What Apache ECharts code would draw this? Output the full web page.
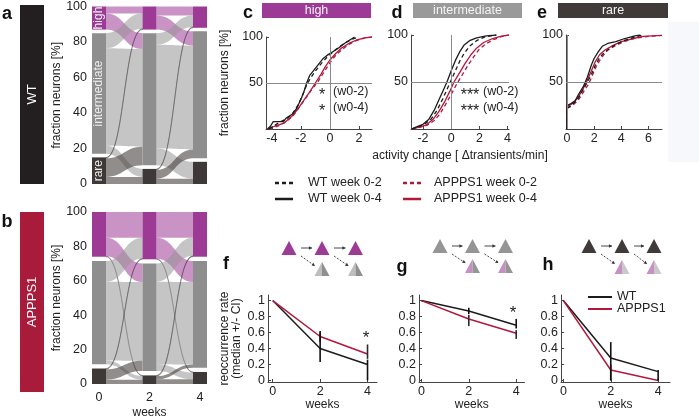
<!DOCTYPE html>
<html>
<head>
<meta charset="utf-8">
<script src="https://cdn.jsdelivr.net/npm/echarts@6/dist/echarts.min.js"></script>
<style>
  html, body { margin: 0; padding: 0; background: #fff; }
  #chart { width: 699px; height: 420px; }
</style>
</head>
<body>
<div id="chart"></div>
<script>
// ---------- data ----------
const weeks = [0, 2, 4];
const groups = ['high', 'intermediate', 'rare'];

// sankey transitions, % of neurons; rows = from (high, intermediate, rare), cols = to
const wtFlow02 = [[4, 9, 0], [8.5, 55, 4.5], [0.5, 10.5, 4]];
const wtFlow24 = [[5, 8, 0], [6.5, 58.5, 9.5], [0.5, 5, 3]];
const apFlow02 = [[15, 10.7, 0.3], [12, 45.8, 2.2], [0.5, 6, 2.5]];
const apFlow24 = [[15, 12.2, 0.3], [10.5, 48, 4], [0.5, 1.8, 2.7]];

// cumulative distributions of activity change [x, %]
const cdfHighWt02 = [[-4.2,0],[-3.8,4],[-3.4,8],[-3.0,11],[-2.6,16],[-2.2,26],[-1.9,36],[-1.6,48],[-1.3,56],[-1.0,63],[-0.6,71],[-0.2,78],[0.3,85],[0.8,91],[1.2,95],[1.6,98],[2.0,100]];
const cdfHighWt04 = [[-4.3,0],[-4.1,3],[-3.9,8],[-3.2,8],[-3.0,12],[-2.6,16],[-2.3,22],[-2.0,32],[-1.8,40],[-1.6,50],[-1.4,58],[-1.1,64],[-0.8,70],[-0.5,76],[-0.2,80],[0.2,84],[0.6,88],[1.0,93],[1.4,97],[1.7,100]];
const cdfHighAp02 = [[-4.2,0],[-3.6,3],[-3.0,8],[-2.5,15],[-2.0,26],[-1.6,35],[-1.2,44],[-0.8,52],[-0.4,62],[0,72],[0.4,80],[0.8,86],[1.3,92],[1.8,96],[2.4,99],[2.9,100]];
const cdfHighAp04 = [[-4.3,0],[-3.8,3],[-3.2,6],[-2.6,14],[-2.2,22],[-1.8,31],[-1.4,40],[-1.0,50],[-0.6,60],[-0.3,68],[0,75],[0.4,82],[0.8,88],[1.3,93],[1.8,96.5],[2.4,99],[2.9,100]];

const cdfInterWt02 = [[-2.8,0],[-2.4,2],[-1.9,5],[-1.4,11],[-1.0,20],[-0.6,32],[-0.3,42],[0,52],[0.3,62],[0.6,72],[0.9,80],[1.3,88],[1.8,94],[2.4,98],[3.2,100]];
const cdfInterWt04 = [[-2.8,0],[-2.5,2],[-2.0,5],[-1.6,10],[-1.2,20],[-0.9,30],[-0.6,40],[-0.3,50],[0,62],[0.3,73],[0.6,82],[0.9,89],[1.3,94],[1.8,97],[2.5,99],[3.2,100]];
const cdfInterAp02 = [[-2.8,0],[-2.3,1.5],[-1.7,4],[-1.2,9],[-0.8,16],[-0.4,26],[0,37],[0.4,48],[0.8,58],[1.2,68],[1.6,77],[2.0,85],[2.5,91],[3.0,95],[3.6,98.5],[4.1,100]];
const cdfInterAp04 = [[-2.8,0],[-2.4,1.5],[-1.8,4],[-1.3,10],[-0.9,18],[-0.5,28],[-0.1,40],[0.2,50],[0.6,60],[1.0,70],[1.4,79],[1.8,86],[2.3,92],[2.9,96],[3.5,98.5],[4.1,100]];

const cdfRareWt02 = [[0,0],[0,22],[0.4,26],[0.8,32],[1.2,42],[1.5,50],[1.8,58],[2.1,68],[2.4,76],[2.8,82],[3.2,86],[3.6,90],[4.2,94],[4.8,97],[5.6,100]];
const cdfRareWt04 = [[0,0],[0,25],[0.3,27],[0.6,30],[0.9,38],[1.2,45],[1.5,55],[1.8,68],[2.0,75],[2.3,82],[2.6,88],[3.0,91],[3.6,93],[4.2,96],[5.0,99],[5.4,100]];
const cdfRareAp02 = [[0,0],[0,22],[0.4,25],[0.8,30],[1.2,39],[1.6,48],[1.9,58],[2.2,68],[2.6,77],[3.0,84],[3.6,89],[4.2,93],[5.0,96.5],[6.0,98.5],[7,99.5]];
const cdfRareAp04 = [[0,0],[0,24],[0.4,27],[0.8,33],[1.2,43],[1.5,52],[1.8,62],[2.1,72],[2.4,79],[2.8,84],[3.4,89],[4.0,93],[4.8,96],[5.6,98.5],[7,99.5]];

// reoccurrence rate (median) and CI at weeks 2 and 4
const recurWeeks = [0, 2, 4];
const ciWeeks = [2, 4];
const highWt = [1, 0.40, 0.20],  highAp = [1, 0.55, 0.33];
const interWt = [1, 0.87, 0.69], interAp = [1, 0.77, 0.59];
const rareWt = [1, 0.28, 0.11],  rareAp = [1, 0.13, 0];
const highWtLo = [0.23, 0],    highWtHi = [0.62, 0.26];
const highApLo = [0.48, 0.27], highApHi = [0.60, 0.45];
const interWtLo = [0.83, 0.65], interWtHi = [0.91, 0.77];
const interApLo = [0.68, 0.52], interApHi = [0.82, 0.63];
const rareWtLo = [0, 0], rareWtHi = [0.48, 0.13];
const rareApLo = [0, 0], rareApHi = [0.20, 0.02];

// ---------- styles ----------
const FONT = 'Liberation Sans, Arial, sans-serif';
const BLACK = '#1c1c1c', RED = '#b2183c', AXIS = '#444';
const nodeColors = ['#9c3a96', '#8e8e8e', '#3e3936'];
const flowColors = ['rgba(158,58,151,0.55)', 'rgba(150,150,150,0.55)', 'rgba(70,65,62,0.6)'];

// sankey layout in data units (weeks, %)
function sankeyLayout(flowA, flowB, gap) {
  const sum = a => a.reduce((s, v) => s + v, 0);
  const colSums = m => [0, 1, 2].map(j => sum(m.map(r => r[j])));
  const cols = [flowA.map(sum), colSums(flowA), colSums(flowB)];
  const ext = cols.map(vals => {
    const e = []; let y = 0;
    for (let g = 2; g >= 0; g--) { e[g] = [y + vals[g], y]; y += vals[g] + gap; }
    return e;
  });
  const nodes = [], flows = [];
  ext.forEach((e, c) => e.forEach((v, g) => nodes.push([weeks[c], v[0], v[1], g, 0])));
  [flowA, flowB].forEach((m, t) => {
    const outTop = ext[t].map(e => e[0]);
    const inTop = ext[t + 1].map(e => e[0]);
    for (let i = 0; i < 3; i++) for (let j = 0; j < 3; j++) {
      const v = m[i][j]; if (!v) continue;
      flows.push([weeks[t], outTop[i], outTop[i] - v, weeks[t + 1], inTop[j], inTop[j] - v, i, v]);
      outTop[i] -= v; inTop[j] -= v;
    }
  });
  return { nodes, flows };
}
const wtSankey = sankeyLayout(wtFlow02, wtFlow24, 2);
const apSankey = sankeyLayout(apFlow02, apFlow24, 2.5);
wtSankey.nodes.forEach(n => { if (n[0] === 0) n[4] = 1; });

const HALF = 7;
function renderFlow(params, api) {
  const a = api.coord([api.value(0), api.value(1)]), a2 = api.coord([api.value(0), api.value(2)]);
  const b = api.coord([api.value(3), api.value(4)]), b2 = api.coord([api.value(3), api.value(5)]);
  const g = api.value(6), small = api.value(7) < 1;
  const sx = a[0] + HALF, ex = b[0] - HALF, mx = (sx + ex) / 2;
  const d = `M${sx},${a[1]} C${mx},${a[1]} ${mx},${b[1]} ${ex},${b[1]} L${ex},${b2[1]} C${mx},${b2[1]} ${mx},${a2[1]} ${sx},${a2[1]} Z`;
  return { type: 'path', shape: { pathData: d },
    style: { fill: flowColors[g], stroke: small ? 'rgba(60,60,60,0.6)' : null, lineWidth: 0.6 } };
}
function renderNode(params, api) {
  const p = api.coord([api.value(0), api.value(1)]), q = api.coord([api.value(0), api.value(2)]);
  const g = api.value(3);
  const children = [{ type: 'rect', shape: { x: p[0] - HALF, y: p[1], width: HALF * 2, height: q[1] - p[1] },
    style: { fill: nodeColors[g] } }];
  if (api.value(4)) {
    children.push({ type: 'text', x: p[0], y: (p[1] + q[1]) / 2, rotation: Math.PI / 2,
      style: { text: groups[g], fill: '#eeeeee', font: '12px ' + FONT, align: 'center', verticalAlign: 'middle',
        textAlign: 'center', textVerticalAlign: 'middle' } });
  }
  return { type: 'group', children };
}
function renderBar(color) {
  return function (params, api) {
    const p = api.coord([api.value(0), api.value(1)]), q = api.coord([api.value(0), api.value(2)]);
    return { type: 'line', shape: { x1: p[0], y1: p[1], x2: q[0], y2: q[1] }, style: { stroke: color, lineWidth: 1.6 } };
  };
}

// ---------- axes ----------
const grids = [
  { left: 92, top: 5, width: 115, height: 179 },
  { left: 92, top: 212, width: 115, height: 180 },
  { left: 266, top: 37, width: 106, height: 92 },
  { left: 411, top: 35, width: 98, height: 94 },
  { left: 566, top: 35, width: 96, height: 94 },
  { left: 268, top: 295, width: 109, height: 87 },
  { left: 419, top: 295, width: 105.5, height: 87 },
  { left: 561, top: 295, width: 109, height: 87 }
];
const lineAx = { onZero: false, lineStyle: { color: AXIS, width: 1 } };
function valAxis(gi, min, max, ticks, extra) {
  return Object.assign({
    gridIndex: gi, type: 'value', min, max,
    axisLine: lineAx,
    axisTick: { inside: true, length: 3, customValues: ticks, lineStyle: { color: AXIS } },
    axisLabel: { customValues: ticks, color: '#222', fontSize: 12.5, margin: 3 },
    splitLine: { show: false }
  }, extra || {});
}
const nameStyle = { color: '#222', fontSize: 12, fontFamily: FONT };

const xAxis = [
  { gridIndex: 0, type: 'value', min: -0.277, max: 4.277, show: false },
  { gridIndex: 1, type: 'value', min: -0.277, max: 4.277, axisLine: { show: false }, axisTick: { show: false },
    splitLine: { show: false }, axisLabel: { customValues: weeks, color: '#222', fontSize: 12.5, margin: 7 },
    name: 'weeks', nameLocation: 'middle', nameGap: 23, nameTextStyle: nameStyle },
  valAxis(2, -4.4, 2.9, [-4, -2, 0, 2]),
  valAxis(3, -2.85, 4.1, [-2, 0, 2, 4], { name: 'activity change [ \u0394transients/min]', nameLocation: 'middle',
    nameGap: 21, nameTextStyle: nameStyle }),
  valAxis(4, -0.07, 7, [0, 2, 4, 6]),
  valAxis(5, -0.2, 4.4, weeks, { name: 'weeks', nameLocation: 'middle', nameGap: 13, nameTextStyle: nameStyle }),
  valAxis(6, -0.1, 4.35, weeks, { name: 'weeks', nameLocation: 'middle', nameGap: 13, nameTextStyle: nameStyle }),
  valAxis(7, -0.1, 4.5, weeks, { name: 'weeks', nameLocation: 'middle', nameGap: 13, nameTextStyle: nameStyle })
];
const recTicks = [0, 0.2, 0.4, 0.6, 0.8, 1];
const sankeyY = gi => ({ gridIndex: gi, type: 'value', min: 0, max: 100, interval: 20,
  axisLine: { show: false }, axisTick: { show: false }, splitLine: { show: false },
  axisLabel: { color: '#222', fontSize: 12.5, margin: 5 },
  name: 'fraction neurons [%]', nameLocation: 'middle', nameRotate: 90, nameGap: 24, nameTextStyle: nameStyle });
const yAxis = [
  sankeyY(0), sankeyY(1),
  valAxis(2, 0, 100, [50, 100], { name: 'fraction neurons [%]', nameLocation: 'middle', nameRotate: 90,
    nameGap: 35, nameTextStyle: nameStyle }),
  valAxis(3, 0, 100, [50, 100]),
  valAxis(4, 0, 100, [50, 100]),
  valAxis(5, -0.02, 1.07, recTicks, { name: 'reoccurrence rate\n(median +/- CI)', nameLocation: 'middle',
    nameRotate: 90, nameGap: 25, nameTextStyle: Object.assign({ lineHeight: 12 }, nameStyle) }),
  valAxis(6, -0.02, 1.07, recTicks),
  valAxis(7, -0.02, 1.07, recTicks)
];

// ---------- series ----------
const series = [];
[[0, wtSankey], [1, apSankey]].forEach(([gi, s]) => {
  series.push({ type: 'custom', xAxisIndex: gi, yAxisIndex: gi, renderItem: renderFlow, data: s.flows, silent: true, z: 1 });
  series.push({ type: 'custom', xAxisIndex: gi, yAxisIndex: gi, renderItem: renderNode, data: s.nodes, silent: true, z: 2 });
});
function cdfSeries(gi, wt02, wt04, ap02, ap04) {
  const mk = (name, data, color, dashed) => ({ name, type: 'line', xAxisIndex: gi, yAxisIndex: gi, data,
    symbol: 'none', silent: true, itemStyle: { color },
    lineStyle: { color, width: 1.3, type: dashed ? [4, 3] : 'solid' }, z: 3 });
  const s = [mk('APPPS1 week 0-2', ap02, RED, true), mk('APPPS1 week 0-4', ap04, RED, false),
    mk('WT week 0-2', wt02, BLACK, true), mk('WT week 0-4', wt04, BLACK, false)];
  s[0].markLine = { silent: true, symbol: 'none', label: { show: false }, animation: false,
    lineStyle: { color: '#8a8a8a', width: 1, type: 'solid' }, data: [{ yAxis: 50 }, { xAxis: 0 }] };
  return s;
}
series.push(...cdfSeries(2, cdfHighWt02, cdfHighWt04, cdfHighAp02, cdfHighAp04));
series.push(...cdfSeries(3, cdfInterWt02, cdfInterWt04, cdfInterAp02, cdfInterAp04));
series.push(...cdfSeries(4, cdfRareWt02, cdfRareWt04, cdfRareAp02, cdfRareAp04));

function recSeries(gi, wt, ap, wtLo, wtHi, apLo, apHi) {
  const pts = v => recurWeeks.map((w, i) => [w, v[i]]);
  const bars = (lo, hi) => ciWeeks.map((w, i) => [w, lo[i], hi[i]]);
  return [
    { name: 'WT', type: 'line', xAxisIndex: gi, yAxisIndex: gi, data: pts(wt), symbol: 'none', silent: true,
      itemStyle: { color: BLACK }, lineStyle: { color: BLACK, width: 1.5 }, z: 3 },
    { name: 'APPPS1', type: 'line', xAxisIndex: gi, yAxisIndex: gi, data: pts(ap), symbol: 'none', silent: true,
      itemStyle: { color: RED }, lineStyle: { color: RED, width: 1.5 }, z: 3 },
    { type: 'custom', xAxisIndex: gi, yAxisIndex: gi, renderItem: renderBar('#2a2a2a'), data: bars(apLo, apHi), silent: true, z: 4 },
    { type: 'custom', xAxisIndex: gi, yAxisIndex: gi, renderItem: renderBar('#111'), data: bars(wtLo, wtHi), silent: true, z: 4 }
  ];
}
series.push(...recSeries(5, highWt, highAp, highWtLo, highWtHi, highApLo, highApHi));
series.push(...recSeries(6, interWt, interAp, interWtLo, interWtHi, interApLo, interApHi));
series.push(...recSeries(7, rareWt, rareAp, rareWtLo, rareWtHi, rareApLo, rareApHi));

// ---------- decorations ----------
const txt = (x, y, text, size, opts) => Object.assign({ type: 'text', x, y,
  style: Object.assign({ text, fill: '#222', font: size + 'px ' + FONT, textAlign: 'left', textVerticalAlign: 'middle' }, (opts || {}).style || {}) },
  (opts || {}).el || {});
const letter = (x, y, t) => txt(x, y, t, 18, { style: { font: 'bold 18px ' + FONT, fill: '#111', textAlign: 'center' } });
const box = (x, y, w, h, fill, label) => [
  { type: 'rect', shape: { x, y, width: w, height: h }, style: { fill } },
  txt(x + w / 2, y + h / 2, label, 12.5, { style: { fill: '#f4f4f4', textAlign: 'center' } })
];
function tri(cx, cy, left, right) {
  const h = 7, w = 7.5;
  if (!right) return [{ type: 'polygon', shape: { points: [[cx, cy - h], [cx - w, cy + h], [cx + w, cy + h]] }, style: { fill: left } }];
  return [
    { type: 'polygon', shape: { points: [[cx, cy - h], [cx - w, cy + h], [cx, cy + h]] }, style: { fill: left } },
    { type: 'polygon', shape: { points: [[cx, cy - h], [cx, cy + h], [cx + w, cy + h]] }, style: { fill: right } }
  ];
}
function arrow(x1, y1, x2, y2, dashed) {
  const a = Math.atan2(y2 - y1, x2 - x1), L = 3.5;
  const head = [[x2, y2], [x2 - L * Math.cos(a - 0.5), y2 - L * Math.sin(a - 0.5)], [x2 - L * Math.cos(a + 0.5), y2 - L * Math.sin(a + 0.5)]];
  return [
    { type: 'line', shape: { x1, y1, x2, y2 }, style: { stroke: '#333', lineWidth: 0.9, lineDash: dashed ? [2, 1.5] : null } },
    { type: 'polygon', shape: { points: head }, style: { fill: '#333' } }
  ];
}
function icons(xs, y1, y2, top, botL, botR) {
  const els = [];
  xs.forEach(x => els.push(...tri(x, y1, top)));
  xs.slice(1).forEach(x => els.push(...tri(x, y2, botL, botR)));
  for (let i = 0; i < 2; i++) {
    els.push(...arrow(xs[i] + 12, y1, xs[i + 1] - 10, y1, false));
    els.push(...arrow(xs[i] + 12, y1 + 8, xs[i + 1] - 7, y2 - 3, true));
  }
  return els;
}
// legend entries: line sample + label
function legendItem(x, y, len, color, dashed, width, label, textX) {
  return [
    { type: 'line', shape: { x1: x, y1: y, x2: x + len, y2: y },
      style: { stroke: color, lineWidth: width, lineDash: dashed ? [4, 3] : null } },
    txt(textX, y, label, 12.5)
  ];
}

const graphic = [
  { type: 'rect', shape: { x: 668, y: 22, width: 31, height: 140 }, style: { fill: '#f6f8fc' } },
  { type: 'rect', shape: { x: 20, y: 5, width: 24, height: 179 }, style: { fill: '#231f20' } },
  txt(32, 94.5, 'WT', 13, { style: { fill: '#fff', textAlign: 'center' }, el: { rotation: Math.PI / 2 } }),
  { type: 'rect', shape: { x: 20, y: 212, width: 24, height: 180 }, style: { fill: '#a81b3b' } },
  txt(32, 302, 'APPPS1', 13, { style: { fill: '#fff', textAlign: 'center' }, el: { rotation: Math.PI / 2 } }),
  letter(7, 14, 'a'), letter(7, 222, 'b'), letter(248, 13, 'c'), letter(397, 13, 'd'), letter(542, 13, 'e'),
  letter(226, 264, 'f'), letter(402, 267, 'g'), letter(548, 265, 'h'),
  ...box(262, 3, 109, 15, '#9c3a96', 'high'),
  ...box(413, 3, 109, 15, '#9a9a9a', 'intermediate'),
  ...box(558, 3, 110, 15, '#403b39', 'rare'),
  txt(322, 96, '*', 16, { style: { textAlign: 'center' } }),
  txt(322, 112, '*', 16, { style: { textAlign: 'center' } }),
  txt(333, 92, '(w0-2)', 12.5), txt(333, 108, '(w0-4)', 12.5),
  txt(470, 96, '***', 16, { style: { textAlign: 'center' } }),
  txt(470, 112, '***', 16, { style: { textAlign: 'center' } }),
  txt(483, 92, '(w0-2)', 12.5), txt(483, 108, '(w0-4)', 12.5),
  txt(366, 338, '*', 17, { style: { textAlign: 'center' } }),
  txt(513, 313, '*', 17, { style: { textAlign: 'center' } }),
  ...legendItem(275, 183, 18, BLACK, true, 2.5, 'WT week 0-2', 308),
  ...legendItem(275, 199, 18, BLACK, false, 2.5, 'WT week 0-4', 308),
  ...legendItem(403, 183, 18, RED, true, 2.5, 'APPPS1 week 0-2', 434),
  ...legendItem(403, 199, 18, RED, false, 2.5, 'APPPS1 week 0-4', 434),
  ...legendItem(588, 297, 24, BLACK, false, 2, 'WT', 617),
  ...legendItem(588, 309, 24, RED, false, 2, 'APPPS1', 617),
  ...icons([289, 322, 355.5], 248, 269, '#9c3a96', '#bdbdbd', '#8f8f8f'),
  ...icons([440, 472.5, 505.5], 246, 266, '#959595', '#c88fc4', '#959595'),
  ...icons([589, 622, 654], 246, 267, '#403b39', '#c88fc4', '#c9c9c9')
];

const option = {
  animation: false,
  textStyle: { fontFamily: FONT },
  grid: grids,
  xAxis, yAxis, series,
  graphic: { elements: graphic }
};

const chart = echarts.init(document.getElementById('chart'), null, { renderer: 'canvas' });
chart.setOption(option);
window.addEventListener('resize', function () { chart.resize(); });
</script>
</body>
</html>
